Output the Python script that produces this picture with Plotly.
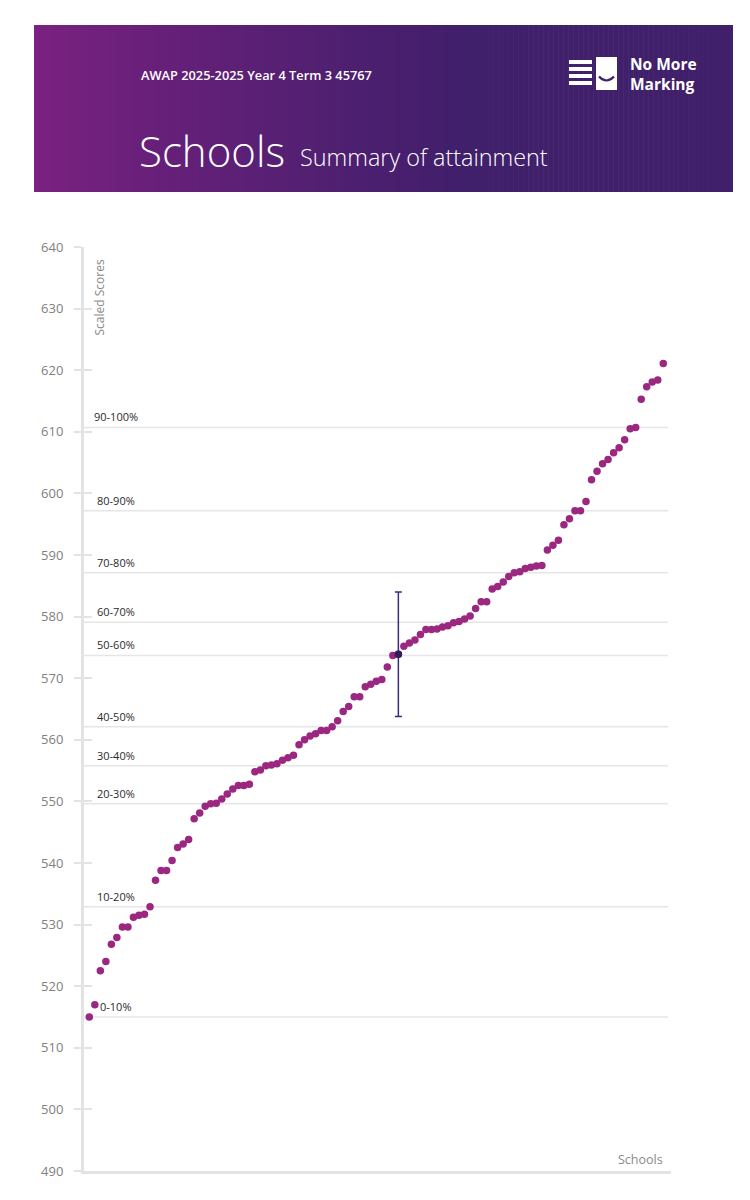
import plotly.graph_objects as go

# ---------------- data ----------------
school_scores = [
    515.0, 517.0, 522.5, 524.0, 526.8, 527.9, 529.6, 529.6, 531.2, 531.5,
    531.7, 532.9, 537.2, 538.8, 538.8, 540.4, 542.5, 543.1, 543.8, 547.2,
    548.1, 549.2, 549.6, 549.7, 550.4, 551.2, 552.0, 552.6, 552.6, 552.8,
    554.8, 555.1, 555.8, 555.9, 556.1, 556.7, 557.1, 557.5, 559.2, 560.0,
    560.6, 561.0, 561.5, 561.5, 562.1, 563.1, 564.6, 565.4, 567.0, 567.0,
    568.6, 569.0, 569.5, 569.8, 571.8, 573.7, 573.9, 575.2, 575.7, 576.2,
    577.1, 577.9, 577.9, 578.0, 578.3, 578.5, 579.0, 579.2, 579.6, 580.1,
    581.3, 582.4, 582.4, 584.5, 584.9, 585.6, 586.5, 587.1, 587.3, 587.8,
    588.0, 588.2, 588.3, 590.8, 591.6, 592.4, 594.9, 595.9, 597.2, 597.2,
    598.7, 602.2, 603.6, 604.8, 605.5, 606.6, 607.4, 608.7, 610.5, 610.7,
    615.3, 617.3, 618.1, 618.4, 621.1,
]
highlight_index = 56          # 0-based position of the highlighted school
highlight_error = 10.1        # +/- error bar on highlighted school

decile_labels = ["0-10%", "10-20%", "20-30%", "30-40%", "40-50%",
                 "50-60%", "60-70%", "70-80%", "80-90%", "90-100%"]
decile_values = [515.0, 532.9, 549.6, 555.8, 562.1, 573.7, 579.1, 587.1, 597.2, 610.7]

y_ticks = list(range(490, 641, 10))

header_small = "AWAP 2025-2025 Year 4 Term 3 45767"
header_title = "Schools"
header_subtitle = "Summary of attainment"
logo_text = "No More<br>Marking"

# ---------------- geometry helpers ----------------
W, H = 750, 1200
PL, PR, PT, PB = 84, 671, 247, 1171


def px(x):
    return (x - PL) / (PR - PL)


def py(y):
    return (PB - y) / (PB - PT)


FONT = "Open Sans"
POINT = "#9b2780"
HILITE = "#2e1f5c"
ERR = "#3d2a80"
AXIS = "#e3e3e3"

fig = go.Figure()

xs = list(range(1, len(school_scores) + 1))
fig.add_trace(go.Scatter(
    x=xs, y=school_scores, mode="markers",
    marker=dict(color=POINT, size=7.5, line=dict(width=0)),
    hoverinfo="y", showlegend=False,
))
fig.add_trace(go.Scatter(
    x=[xs[highlight_index]], y=[school_scores[highlight_index]], mode="markers",
    marker=dict(color=HILITE, size=7.5, line=dict(width=0)),
    error_y=dict(type="data", array=[highlight_error], symmetric=True,
                 color=ERR, thickness=1.5, width=3.5),
    showlegend=False,
))
# invisible trace for second y axis (inside ticks)
fig.add_trace(go.Scatter(x=[None], y=[None], yaxis="y2", showlegend=False))

shapes = []
annotations = []

# decile lines and labels
for lab, val in zip(decile_labels, decile_values):
    shapes.append(dict(type="line", xref="paper", yref="y", x0=0, x1=px(668),
                       y0=val, y1=val, line=dict(color="#e6e6e6", width=1.5),
                       layer="below"))
    annotations.append(dict(text=lab, xref="paper", yref="y", x=px(116), y=val,
                            xanchor="center", yanchor="bottom", yshift=1,
                            showarrow=False,
                            font=dict(family=FONT, size=11, color="#2b2b2b")))

# header gradient band
x_left, x_right, y_top, y_bot = 34, 733, 25, 192
c0 = (124, 33, 129)
c1 = (64, 31, 107)
n = 140
for i in range(n):
    xa = x_left + (x_right - x_left) * i / n
    xb = x_left + (x_right - x_left) * (i + 1) / n + 0.6
    t = min(1.0, ((xa + xb) / 2 - x_left) / 430.0)
    t = t ** 0.85
    col = tuple(round(c0[k] + (c1[k] - c0[k]) * t) for k in range(3))
    shapes.append(dict(type="rect", xref="paper", yref="paper",
                       x0=px(xa), x1=px(min(xb, x_right)), y0=py(y_bot), y1=py(y_top),
                       line=dict(width=0), fillcolor="rgb(%d,%d,%d)" % col,
                       layer="below"))

# logo: bars
for yc in [62, 69, 76, 83]:
    shapes.append(dict(type="rect", xref="paper", yref="paper",
                       x0=px(569), x1=px(592), y0=py(yc + 2), y1=py(yc - 2),
                       line=dict(width=0), fillcolor="white"))
# logo: page
shapes.append(dict(type="rect", xref="paper", yref="paper",
                   x0=px(596), x1=px(617), y0=py(90), y1=py(57),
                   line=dict(width=0), fillcolor="white"))
# logo: smile
shapes.append(dict(type="path", xref="paper", yref="paper",
                   path="M %f,%f Q %f,%f %f,%f" % (px(599), py(76.5), px(606.5), py(84.5),
                                                   px(614), py(76.5)),
                   line=dict(color="#3e1f6a", width=2.2)))

annotations += [
    dict(text=logo_text, xref="paper", yref="paper", x=px(628), y=py(74.5),
         xanchor="left", yanchor="middle", align="left", showarrow=False,
         font=dict(family=FONT, size=15.5, color="white", weight=700)),
    dict(text=header_small, xref="paper", yref="paper", x=px(139), y=py(75),
         xanchor="left", yanchor="middle", showarrow=False,
         font=dict(family=FONT, size=12.8, color="white", weight=600)),
    dict(text=header_title, xref="paper", yref="paper", x=px(137), y=py(151),
         xanchor="left", yanchor="middle", showarrow=False,
         font=dict(family=FONT, size=42, color="white", weight=300)),
    dict(text=header_subtitle, xref="paper", yref="paper", x=px(298), y=py(157),
         xanchor="left", yanchor="middle", showarrow=False,
         font=dict(family=FONT, size=23.4, color="white", weight=300)),
    dict(text="Scaled Scores", xref="paper", yref="paper", x=px(98.5), y=py(298),
         xanchor="center", yanchor="middle", textangle=-90, showarrow=False,
         font=dict(family=FONT, size=12, color="#8a8a8a")),
    dict(text="Schools", xref="paper", yref="paper", x=px(665), y=py(1159),
         xanchor="right", yanchor="middle", showarrow=False,
         font=dict(family=FONT, size=12.5, color="#8a8a8a")),
]

fig.update_layout(
    width=W, height=H,
    margin=dict(l=PL, r=W - PR, t=PT, b=H - PB, pad=0),
    paper_bgcolor="white", plot_bgcolor="white",
    shapes=shapes, annotations=annotations,
    showlegend=False,
    xaxis=dict(range=[0.04, 106.4], showgrid=False, zeroline=False,
               showticklabels=False, ticks="", showline=True,
               linecolor=AXIS, linewidth=3),
    yaxis=dict(range=[490, 640], tickvals=y_ticks, showgrid=False, zeroline=False,
               showline=True, linecolor=AXIS, linewidth=3,
               ticks="outside", ticklen=7, tickwidth=1.5, tickcolor=AXIS,
               ticklabelstandoff=8,
               tickfont=dict(family=FONT, size=13, color="#808080")),
    yaxis2=dict(range=[490, 640], overlaying="y", side="left", tickvals=y_ticks,
                showticklabels=False, ticks="inside", ticklen=8, tickwidth=1.5,
                tickcolor=AXIS, showgrid=False, zeroline=False, showline=False),
    font=dict(family=FONT),
)

fig.write_html(
    "out.html",
    config={"displayModeBar": False},
    post_script="document.body.style.margin='0';document.body.style.overflow='hidden';",
)
